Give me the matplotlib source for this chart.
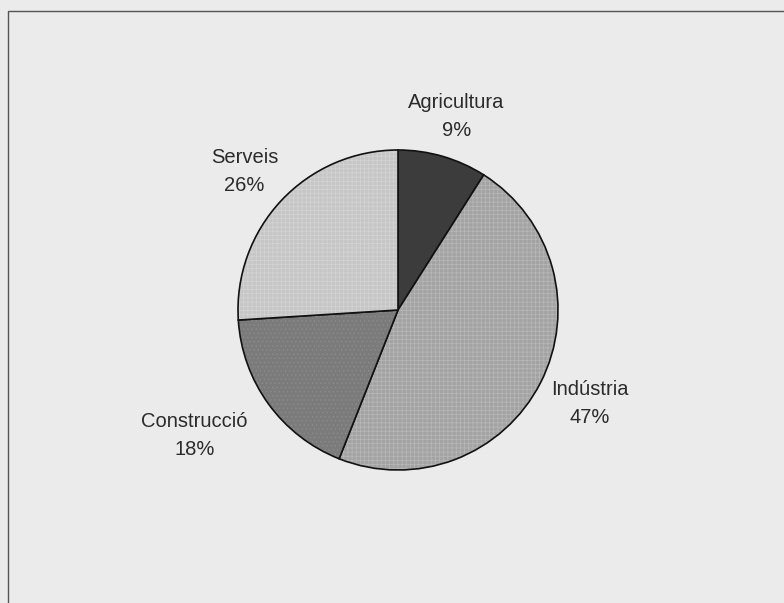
import numpy as np
import matplotlib.pyplot as plt
from matplotlib.colors import to_rgba
from matplotlib.patches import Rectangle

# sector shares of employment
sectors = ["Agricultura", "Indústria", "Construcció", "Serveis"]
shares = [9, 47, 18, 26]

face_colors = ["#3c3c3c", "#a3a3a3", "#7b7b7b", "#c6c6c6"]
hatch_colors = ["#4a4a4a", "#b8b8b8", "#8c8c8c", "#d4d4d4"]
hatches = ["", "++++", "....", "++++"]
label_dist = [1.26, 1.32, 1.48, 1.30]
label_nudge = [(2, 0), (4, 2), (-12, 14), (-2, -4)]

plt.rcParams['font.family'] = ['Liberation Sans', 'DejaVu Sans']
plt.rcParams['hatch.linewidth'] = 0.5

fig = plt.figure(figsize=(7.84, 6.03), dpi=100, facecolor="#ebebeb")
ax = fig.add_axes([0, 0, 1, 1])

# outer frame, only top and left edges fall inside the image
ax.add_patch(Rectangle((8, -20), 820, 612, fill=False, edgecolor="#555555", lw=1.0))

cx, cy, r = 398, 293, 160
wedges, _ = ax.pie(shares, startangle=90, counterclock=False, center=(cx, cy), radius=r,
                   colors=face_colors, wedgeprops=dict(edgecolor="#111111", linewidth=1.2),
                   frame=True)
ax.set_xlim(0, 784)
ax.set_ylim(0, 603)
ax.set_aspect('equal')
ax.axis('off')

for w, hc, h in zip(wedges, hatch_colors, hatches):
    if h:
        w.set_hatch(h)
        w._hatch_color = to_rgba(hc)

for w, name, pct, f, (nx, ny) in zip(wedges, sectors, shares, label_dist, label_nudge):
    mid = np.deg2rad((w.theta1 + w.theta2) / 2)
    x = cx + r * f * np.cos(mid) + nx
    y = cy + r * f * np.sin(mid) + ny
    ax.text(x, y, f"{name}\n{pct}%", ha="center", va="center", fontsize=14.5,
            color="#2b2b2b", linespacing=1.6)

fig.savefig("out.png", dpi=100, facecolor=fig.get_facecolor())
